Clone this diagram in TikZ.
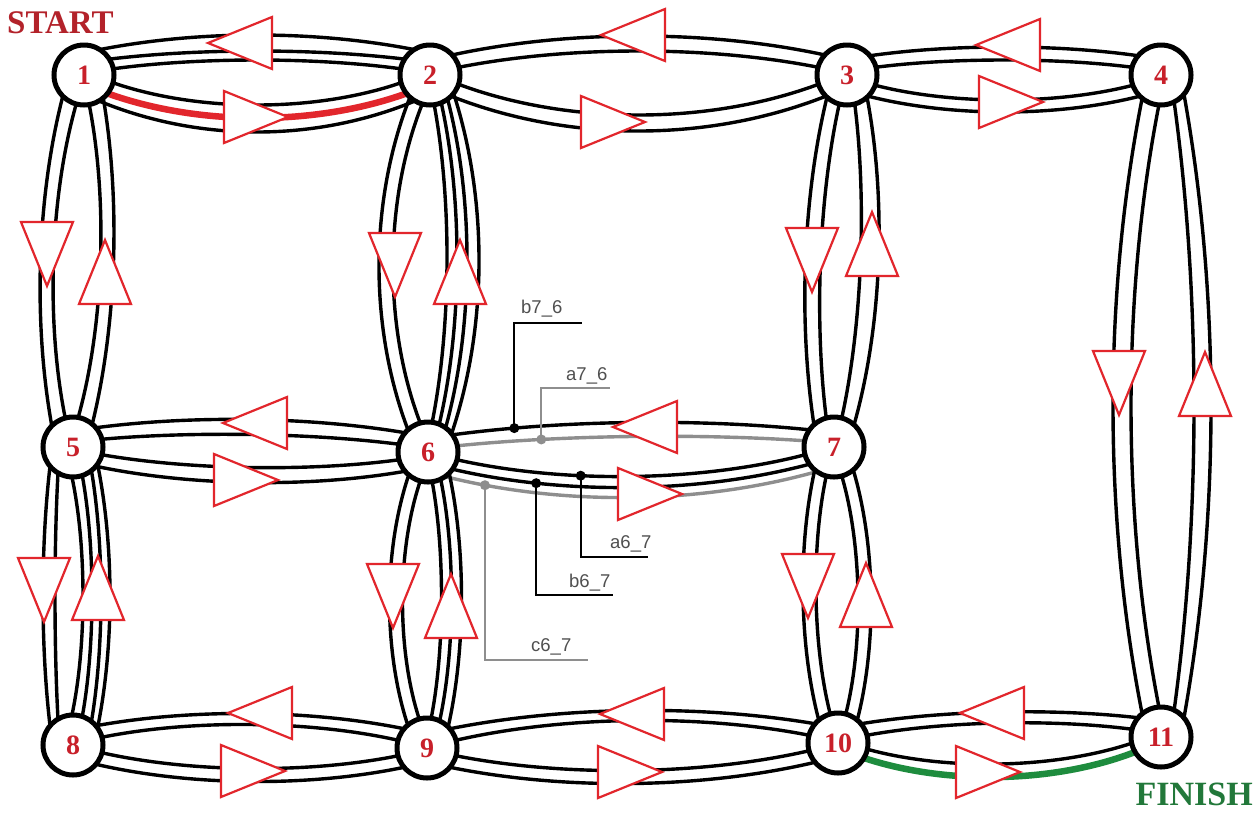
\documentclass[tikz,border=0pt]{standalone}
\usepackage{fontspec}
\setmainfont{Liberation Serif}
\newfontfamily\labfont{Liberation Sans}
\usetikzlibrary{calc}
\pgfdeclarelayer{paper}
\pgfdeclarelayer{lines}
\pgfsetlayers{paper,lines,main}

\definecolor{tred}{HTML}{E2262C}
\definecolor{nred}{HTML}{C8202A}
\definecolor{sred}{HTML}{B3222A}
\definecolor{pathgreen}{HTML}{1E8C3E}
\definecolor{fgreen}{HTML}{22783A}
\definecolor{lgrey}{HTML}{8E8E8E}
\definecolor{tgrey}{HTML}{505050}

% radius at which strands leave a vertex
\def\Rr{30}

% one strand of a lane: [style]{from}{to}{direction}{start angle}{mid offset}{extra}
\newcommand\strandcore[7]{%
  \pgfmathsetmacro\angA{#4+(#5)}%
  \pgfmathsetmacro\angB{#4+180-(#5)}%
  \pgfmathsetmacro\kk{((#6)-0.25*\Rr*sin(#5))/0.75}%
  \draw[strand,#1] ([shift={(\angA:\Rr pt)}]#2.center)
    .. controls ($(#2)!0.3333!(#3)!\kk pt!90:(#3)$) and ($(#3)!0.3333!(#2)!\kk pt!-90:(#2)$)
    .. #7 ([shift={(\angB:\Rr pt)}]#3.center);%
}
\newcommand\strand[6][]{\strandcore{#1}{#2}{#3}{#4}{#5}{#6}{}}
\newcommand\strandmark[8][]{\strandcore{#1}{#2}{#3}{#4}{#5}{#6}{coordinate[pos=#7] (#8)}}

\tikzset{
  vertex/.style={circle, draw=black, line width=5pt, fill=white, minimum size=60pt,
    inner sep=0pt, font=\fontsize{28}{28}\selectfont\bfseries, text=nred},
  strand/.style={line width=3.4pt, draw=black},
  redpath/.style={draw=tred, line width=6.5pt},
  greenpath/.style={draw=pathgreen, line width=6.5pt},
  greystrand/.style={draw=lgrey},
  tri/.style={draw=tred, line width=2.2pt, fill=white, line join=miter},
  dot/.style={circle, fill=black, inner sep=0pt, minimum size=10pt},
  greydot/.style={dot, fill=lgrey},
  lead/.style={line width=1.8pt, draw=black},
  greylead/.style={lead, draw=lgrey},
  lab/.style={font=\labfont\fontsize{18.5}{18.5}\selectfont, text=tgrey, inner sep=0pt},
  arrowtri/.pic={\path[tri] (32pt,0pt) -- (-32pt,26pt) -- (-32pt,-26pt) -- cycle;}
}

\begin{document}
\begin{tikzpicture}[x=1pt, y=-1pt]
\begin{pgfonlayer}{paper}
\fill[white] (0,0) rectangle (1255,812);
\end{pgfonlayer}
\useasboundingbox (0,0) rectangle (1255,812);

% vertices
\node[vertex] (n1) at (84,75) {1};
\node[vertex] (n2) at (430,75) {2};
\node[vertex] (n3) at (847,75) {3};
\node[vertex] (n4) at (1161,75) {4};
\node[vertex] (n5) at (73,447) {5};
\node[vertex] (n6) at (428,452) {6};
\node[vertex] (n7) at (834,447) {7};
\node[vertex] (n8) at (73,745) {8};
\node[vertex] (n9) at (427,748) {9};
\node[vertex] (n10) at (838,743) {10};
\node[vertex] (n11) at (1161,737) {11};

\begin{pgfonlayer}{lines}
% 1 - 2
\strand{n1}{n2}{0}{12}{15}
\strand{n1}{n2}{0}{32}{24}
\strand{n1}{n2}{0}{58}{40}
\strand{n1}{n2}{0}{-15}{-30}
\strand[redpath]{n1}{n2}{0}{-38}{-43}
\strand{n1}{n2}{0}{-60}{-57}
% 2 - 3
\strand{n2}{n3}{0}{15}{24}
\strand{n2}{n3}{0}{42}{39}
\strand{n2}{n3}{0}{-18}{-40}
\strand{n2}{n3}{0}{-45}{-56}
% 3 - 4
\strand{n3}{n4}{0}{15}{15}
\strand{n3}{n4}{0}{40}{28}
\strand{n3}{n4}{0}{-20}{-25}
\strand{n3}{n4}{0}{-45}{-37}
% 1 - 5
\strand{n1}{n5}{-90}{-15}{-25}
\strand{n1}{n5}{-90}{-45}{-38}
\strand{n1}{n5}{-90}{10}{22}
\strand{n1}{n5}{-90}{40}{35}
% 2 - 6
\strand{n2}{n6}{-90}{-15}{-36}
\strand{n2}{n6}{-90}{-42}{-50}
\strand{n2}{n6}{-90}{8}{18}
\strand{n2}{n6}{-90}{22}{28}
\strand{n2}{n6}{-90}{36}{38}
\strand{n2}{n6}{-90}{52}{50}
% 3 - 7
\strand{n3}{n7}{-90}{-15}{-20}
\strand{n3}{n7}{-90}{-42}{-35}
\strand{n3}{n7}{-90}{15}{20}
\strand{n3}{n7}{-90}{42}{38}
% 4 - 11
\strand{n4}{n11}{-90}{-4}{-30}
\strand{n4}{n11}{-90}{-39}{-48}
\strand{n4}{n11}{-90}{26}{33}
\strand{n4}{n11}{-90}{50}{50}
% 5 - 6
\strand{n5}{n6}{0}{15}{15}
\strand{n5}{n6}{0}{40}{30}
\strand{n5}{n6}{0}{-15}{-18}
\strand{n5}{n6}{0}{-40}{-33}
% 6 - 7
\strandmark[greystrand]{n6}{n7}{0}{12}{13}{0.25}{a76}
\strandmark{n6}{n7}{0}{35}{27}{0.18}{b76}
\strandmark{n6}{n7}{0}{-15}{-27}{0.36}{a67}
\strandmark{n6}{n7}{0}{-35}{-38}{0.24}{b67}
\strandmark[greystrand]{n6}{n7}{0}{-55}{-48}{0.11}{c67}
% 5 - 8
\strand{n5}{n8}{-90}{-30}{-18}
\strand{n5}{n8}{-90}{-50}{-30}
\strand{n5}{n8}{-90}{-2}{10}
\strand{n5}{n8}{-90}{18}{19}
\strand{n5}{n8}{-90}{38}{28}
\strand{n5}{n8}{-90}{55}{37}
% 6 - 9
\strand{n6}{n9}{-90}{-15}{-25}
\strand{n6}{n9}{-90}{-40}{-38}
\strand{n6}{n9}{-90}{8}{14}
\strand{n6}{n9}{-90}{25}{24}
\strand{n6}{n9}{-90}{45}{34}
% 7 - 10
\strand{n7}{n10}{-90}{-15}{-20}
\strand{n7}{n10}{-90}{-40}{-33}
\strand{n7}{n10}{-90}{15}{22}
\strand{n7}{n10}{-90}{40}{35}
% 8 - 9
\strand{n8}{n9}{0}{15}{22}
\strand{n8}{n9}{0}{40}{33}
\strand{n8}{n9}{0}{-15}{-22}
\strand{n8}{n9}{0}{-40}{-35}
% 9 - 10
\strand{n9}{n10}{0}{15}{25}
\strand{n9}{n10}{0}{40}{35}
\strand{n9}{n10}{0}{-15}{-25}
\strand{n9}{n10}{0}{-40}{-38}
% 10 - 11
\strand{n10}{n11}{0}{15}{17}
\strand{n10}{n11}{0}{40}{28}
\strand{n10}{n11}{0}{-12}{-24}
\strand[greenpath]{n10}{n11}{0}{-30}{-37}
\end{pgfonlayer}

% direction markers
\pic[rotate=180] at (240,43) {arrowtri};
\pic at (256,117) {arrowtri};
\pic[rotate=180] at (633,35) {arrowtri};
\pic at (613,122) {arrowtri};
\pic[rotate=180] at (1008,45) {arrowtri};
\pic at (1011,102) {arrowtri};
\pic[rotate=-90] at (47,254) {arrowtri};
\pic[rotate=90] at (105,272) {arrowtri};
\pic[rotate=-90] at (395,265) {arrowtri};
\pic[rotate=90] at (460,272) {arrowtri};
\pic[rotate=-90] at (812,260) {arrowtri};
\pic[rotate=90] at (872,244) {arrowtri};
\pic[rotate=-90] at (1119,383) {arrowtri};
\pic[rotate=90] at (1205,384) {arrowtri};
\pic[rotate=180] at (255,423) {arrowtri};
\pic at (246,480) {arrowtri};
\pic[rotate=180] at (645,427) {arrowtri};
\pic at (650,494) {arrowtri};
\pic[rotate=-90] at (44,590) {arrowtri};
\pic[rotate=90] at (98,588) {arrowtri};
\pic[rotate=-90] at (393,596) {arrowtri};
\pic[rotate=90] at (451,606) {arrowtri};
\pic[rotate=-90] at (808,586) {arrowtri};
\pic[rotate=90] at (866,595) {arrowtri};
\pic[rotate=180] at (260,713) {arrowtri};
\pic at (253,771) {arrowtri};
\pic[rotate=180] at (632,714) {arrowtri};
\pic at (630,772) {arrowtri};
\pic[rotate=180] at (992,713) {arrowtri};
\pic at (988,772) {arrowtri};

% strand labels with leaders
\coordinate (eb76) at (582,323);
\coordinate (ea76) at (610,388);
\coordinate (ea67) at (648,557);
\coordinate (eb67) at (613,595);
\coordinate (ec67) at (588,660);
\draw[lead] (b76) |- (eb76);
\draw[greylead] (a76) |- (ea76);
\draw[lead] (a67) |- (ea67);
\draw[lead] (b67) |- (eb67);
\draw[greylead] (c67) |- (ec67);
\node[dot] (db76) at (b76) {};
\node[greydot] (da76) at (a76) {};
\node[dot] (da67) at (a67) {};
\node[dot] (db67) at (b67) {};
\node[greydot] (dc67) at (c67) {};
\node[lab, anchor=base west] (lb76) at (521,313) {b7\_6};
\node[lab, anchor=base west] (la76) at (566,380) {a7\_6};
\node[lab, anchor=base west] (la67) at (610,548) {a6\_7};
\node[lab, anchor=base west] (lb67) at (569,587) {b6\_7};
\node[lab, anchor=base west] (lc67) at (531,651) {c6\_7};

% start and finish
\node[anchor=base west, inner sep=0pt, text=sred, font=\fontsize{33}{33}\selectfont\bfseries] (start) at (7,33) {START};
\node[anchor=base east, inner sep=0pt, text=fgreen, font=\fontsize{34}{34}\selectfont\bfseries] (finish) at (1253,805) {FINISH};
\end{tikzpicture}
\end{document}
